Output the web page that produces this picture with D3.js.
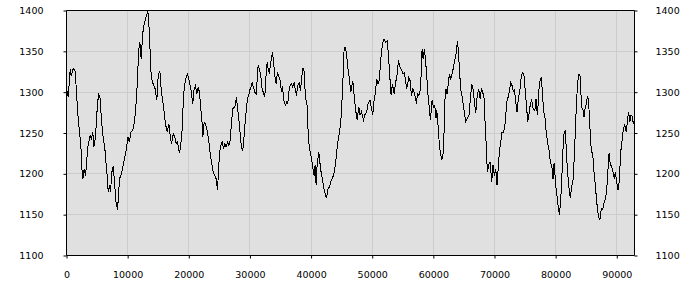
<!DOCTYPE html>
<html>
<head>
<meta charset="utf-8">
<script src="https://cdn.jsdelivr.net/npm/d3@7/dist/d3.min.js"></script>
<style>
  html, body { margin: 0; padding: 0; background: #ffffff; }
  svg { display: block; }
  .tick text { font-family: "DejaVu Sans", sans-serif; font-size: 9.5px; fill: #000; }
</style>
</head>
<body>
<svg id="chart" width="700" height="300"></svg>
<script>
// ---- data ----
const xs = [
  0,278,605,769,1096,1423,1695,1913,2186,2349,2513,2676,2894,3112,3276,3439,3657,3875,4093,4311,
  4475,4693,4856,5020,5238,5456,5674,5892,6110,6328,6491,6655,6818,7036,7200,7418,7636,7854,8072,8344,
  8508,8671,8889,9162,9380,9598,9816,10034,10306,10524,10797,11015,11233,11396,11560,11669,11832,11996,12214,12377,
  12541,12759,12977,13195,13304,13522,13685,13849,14067,14285,14503,14775,14993,15266,15484,15647,15974,16192,16465,16737,
  16955,17173,17446,17718,17936,18154,18481,18699,18863,19026,19190,19462,19789,20062,20334,20661,20879,21097,21315,21533,
  21751,21969,22187,22296,22514,22732,23005,23223,23441,23659,23986,24258,24476,24694,24858,25021,25239,25457,25675,25893,
  26111,26329,26547,26765,26983,27201,27528,27801,27964,28182,28400,28618,28836,29054,29272,29436,29599,29817,30035,30308,
  30362,30798,31016,31180,31343,31561,31779,31997,32270,32433,32597,32815,32978,33196,33414,33687,33850,34068,34286,34504,
  34722,34940,35158,35322,35540,35812,36030,36194,36357,36575,36793,37011,37229,37447,37611,37829,38047,38265,38428,38646,
  38864,38973,39137,39355,39464,39627,39845,40063,40390,40499,40663,40826,40990,41262,41426,41644,41862,42080,42352,42516,
  42788,43006,43224,43442,43660,43878,44096,44314,44641,44859,45077,45241,45404,45568,45786,46004,46276,46494,46821,47039,
  47257,47530,47802,48020,48238,48565,48783,49110,49328,49655,49873,50091,50309,50527,50745,50963,51181,51345,51508,51726,
  51944,52162,52435,52653,52871,53089,53307,53579,53797,54070,54288,54560,54778,55051,55269,55432,55650,55977,56195,56413,
  56631,56849,57067,57231,57394,57612,57830,57994,58157,58321,58539,58702,58920,59084,59302,59520,59792,60010,60228,60446,
  60555,60773,60991,61209,61373,61591,61754,61863,62081,62245,62408,62626,62844,63062,63280,63553,63771,63934,64098,64261,
  64479,64752,64970,65297,65569,65842,66005,66278,66496,66714,66932,67150,67422,67640,67858,68076,68294,68458,68621,68839,
  69057,69275,69548,69766,69984,70202,70420,70638,70801,71019,71237,71455,71673,71837,72055,72327,72654,72872,73090,73254,
  73472,73690,73908,74180,74398,74616,74834,75052,75270,75434,75706,75870,76088,76306,76524,76687,76796,77014,77178,77287,
  77450,77668,77832,78050,78268,78486,78758,78976,79140,79358,79576,79739,79903,80066,80284,80448,80611,80775,80993,81156,
  81320,81483,81592,81756,81919,82137,82410,82573,82846,83064,83282,83445,83609,83827,83990,84154,84317,84481,84644,84808,
  85026,85189,85353,85516,85680,85843,86061,86279,86497,86715,86933,87151,87315,87478,87696,87969,88187,88405,88568,88732,
  88950,89168,89386,89604,89767,89985,90203,90421,90639,90803,90966,91293,91566,91783,91947,92110,92328,92546,92710,92900
];
const ys = [
  1305,1294,1328,1320,1329,1326,1292,1267,1247,1235,1206,1194,1206,1198,1211,1231,1239,1247,1243,1251,
  1233,1243,1259,1280,1298,1295,1272,1251,1239,1227,1211,1198,1178,1186,1178,1202,1209,1190,1166,1156,
  1174,1194,1198,1206,1215,1223,1231,1245,1239,1251,1253,1259,1272,1288,1308,1328,1353,1361,1341,1361,
  1377,1385,1391,1397,1400,1377,1349,1320,1312,1308,1304,1290,1320,1326,1304,1294,1276,1261,1251,1261,
  1247,1237,1249,1245,1237,1239,1225,1237,1247,1276,1300,1316,1322,1314,1304,1286,1304,1308,1298,1306,
  1300,1280,1261,1245,1263,1261,1253,1243,1229,1217,1202,1198,1194,1180,1202,1225,1235,1239,1231,1237,
  1233,1239,1235,1241,1263,1280,1282,1294,1280,1268,1249,1231,1229,1247,1268,1280,1292,1296,1304,1308,
  1312,1300,1298,1314,1333,1328,1320,1304,1298,1294,1316,1337,1328,1324,1337,1349,1339,1320,1310,1324,
  1320,1314,1300,1308,1290,1284,1288,1286,1300,1308,1310,1306,1312,1302,1296,1308,1312,1302,1314,1330,
  1326,1308,1292,1284,1259,1239,1227,1219,1202,1198,1211,1186,1211,1227,1215,1202,1194,1182,1174,1170,
  1182,1184,1190,1194,1198,1206,1219,1235,1251,1263,1292,1320,1353,1355,1349,1330,1316,1300,1314,1296,
  1280,1266,1282,1272,1276,1266,1272,1276,1286,1290,1280,1272,1290,1300,1316,1310,1316,1334,1349,1361,
  1365,1361,1363,1347,1320,1296,1310,1298,1310,1322,1339,1330,1328,1322,1324,1314,1304,1318,1314,1296,
  1304,1300,1294,1286,1298,1296,1302,1320,1353,1341,1353,1341,1320,1300,1284,1266,1290,1282,1284,1268,
  1278,1259,1235,1223,1217,1225,1251,1288,1304,1298,1308,1322,1316,1322,1330,1341,1349,1363,1351,1328,
  1304,1292,1280,1264,1268,1272,1288,1310,1304,1288,1274,1294,1304,1292,1304,1300,1292,1264,1239,1202,
  1211,1215,1190,1211,1198,1206,1186,1211,1227,1239,1251,1251,1257,1272,1290,1296,1312,1308,1300,1304,
  1288,1276,1292,1304,1320,1324,1320,1300,1280,1264,1276,1286,1290,1280,1278,1280,1292,1272,1290,1304,
  1314,1318,1300,1276,1268,1249,1235,1227,1213,1211,1194,1213,1198,1182,1170,1158,1150,1162,1190,1223,
  1247,1251,1253,1227,1206,1186,1170,1182,1192,1223,1264,1292,1312,1322,1320,1296,1280,1278,1270,1280,
  1286,1294,1292,1272,1247,1227,1225,1202,1186,1166,1152,1144,1146,1158,1156,1166,1170,1186,1206,1225,
  1211,1209,1202,1194,1202,1190,1180,1192,1227,1235,1249,1261,1251,1268,1276,1263,1272,1270,1261,1268
];
const xTicks = [0, 10000, 20000, 30000, 40000, 50000, 60000, 70000, 80000, 90000];
const yTicks = [1100, 1150, 1200, 1250, 1300, 1350, 1400];
const xMax = 92900;
const yDomain = [1100, 1400];

// ---- layout ----
const W = 700, H = 300;
const margin = { left: 66.5, right: 65.5, top: 10.5, bottom: 44.5 };
const iw = W - margin.left - margin.right;
const ih = H - margin.top - margin.bottom;

const svg = d3.select("#chart");
const g = svg.append("g").attr("transform", `translate(${margin.left},${margin.top})`);

const x = d3.scaleLinear().domain([0, xMax]).range([0, iw]);
const y = d3.scaleLinear().domain(yDomain).range([ih, 0]);

// background
g.append("rect").attr("x", 0).attr("y", 0).attr("width", iw).attr("height", ih).attr("fill", "#e0e0e0");

// grid
g.append("g").selectAll("line.gx").data(xTicks.filter(d => d > 0)).join("line")
  .attr("x1", d => Math.round(x(d)) ).attr("x2", d => Math.round(x(d)))
  .attr("y1", 0).attr("y2", ih).attr("stroke", "#cccccc").attr("stroke-width", 1);
g.append("g").selectAll("line.gy").data(yTicks.filter(d => d > yDomain[0] && d < yDomain[1])).join("line")
  .attr("x1", 0).attr("x2", iw)
  .attr("y1", d => Math.round(y(d))).attr("y2", d => Math.round(y(d)))
  .attr("stroke", "#cccccc").attr("stroke-width", 1);

// line
const pts = xs.map((d, i) => [d, ys[i]]);
g.append("path").datum(pts)
  .attr("fill", "none").attr("stroke", "#000").attr("stroke-width", 1)
  .attr("shape-rendering", "crispEdges")
  .attr("d", d3.line().x(d => x(d[0])).y(d => y(d[1])));

// axes
const axL = d3.axisLeft(y).tickValues(yTicks).tickSize(3).tickPadding(20).tickFormat(d3.format("d"));
const axR = d3.axisRight(y).tickValues(yTicks).tickSize(3).tickPadding(18).tickFormat(d3.format("d"));
const axB = d3.axisBottom(x).tickValues(xTicks).tickSize(3).tickPadding(13).tickFormat(d3.format("d"));

const gl = g.append("g").call(axL);
const gr = g.append("g").attr("transform", `translate(${iw},0)`).call(axR);
const gb = g.append("g").attr("transform", `translate(0,${ih})`).call(axB);
[gl, gr, gb].forEach(a => {
  a.select(".domain").attr("stroke", "#000").attr("d", null);
  a.selectAll(".tick line").attr("stroke", "#000");
});
gl.select(".domain").attr("d", `M0,0V${ih}`);
gr.select(".domain").attr("d", `M0,0V${ih}`);
gb.select(".domain").attr("d", `M0,0H${iw}`);
// top border
g.append("line").attr("x1", 0).attr("x2", iw).attr("y1", 0).attr("y2", 0).attr("stroke", "#000");
</script>
</body>
</html>
